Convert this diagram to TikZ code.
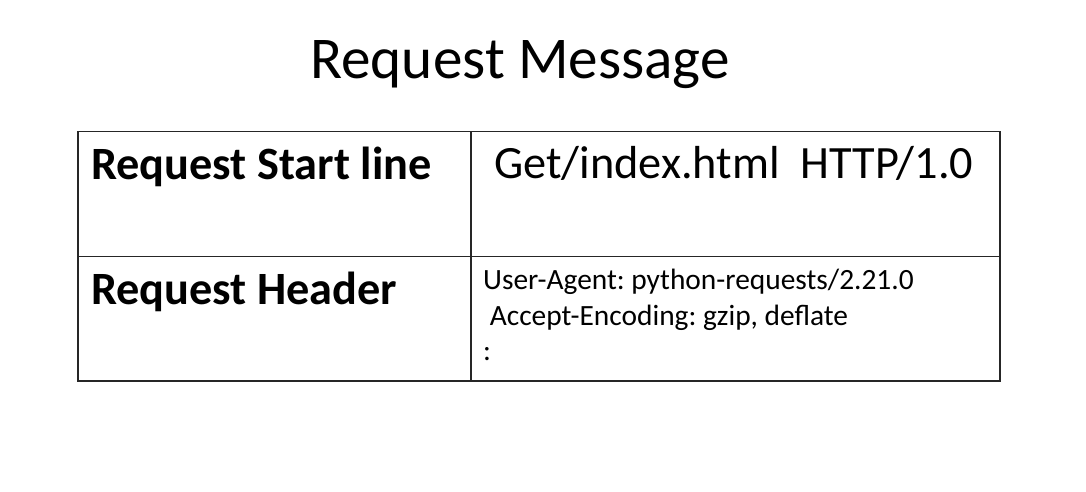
\documentclass[tikz,border=0pt]{standalone}
\usepackage{fontspec}
\setmainfont{Carlito}
\frenchspacing
\begin{document}
\begin{tikzpicture}[x=1pt,y=-1pt,
  cell/.style={draw=black!85,line width=1.3pt},
  txt/.style={inner sep=0pt,anchor=base west},
  lab/.style={txt,font=\fontsize{46.3}{50}\selectfont\bfseries},
  hdr/.style={txt,font=\fontsize{29.4}{34}\selectfont}]
\useasboundingbox[fill=white] (0,0) rectangle (1086,492);
\node[inner sep=0pt,anchor=base,font=\fontsize{59.2}{64}\selectfont] (title) at (520,78.5) {Request Message};
\coordinate (tl) at (78,131.5);
\coordinate (tm) at (471,131.5);
\coordinate (tr) at (1000,131.5);
\coordinate (ml) at (78,256.5);
\coordinate (mr) at (1000,256.5);
\coordinate (bl) at (78,381);
\coordinate (bm) at (471,381);
\coordinate (br) at (1000,381);
\draw[cell] (tl) -- (tr) -- (br) -- (bl) -- cycle;
\draw[cell] (tm) -- (bm);
\draw[cell] (ml) -- (mr);
\node[lab] (startlab) at (91,179.3) {Request Start line};
\node[lab] (hdrlab) at (91,304.5) {Request Header};
\node[txt,font=\fontsize{46.3}{50}\selectfont] (startval) at (494,178.5) {Get/index.html\ \ HTTP/1.0};
\node[hdr] (h1) at (483,289.5) {User-Agent: python-requests/2.21.0};
\node[hdr] (h2) at (483,325) {\ Accept-Encoding: gzip, deflate};
\node[hdr] (h3) at (483,360) {:};
\end{tikzpicture}
\end{document}
